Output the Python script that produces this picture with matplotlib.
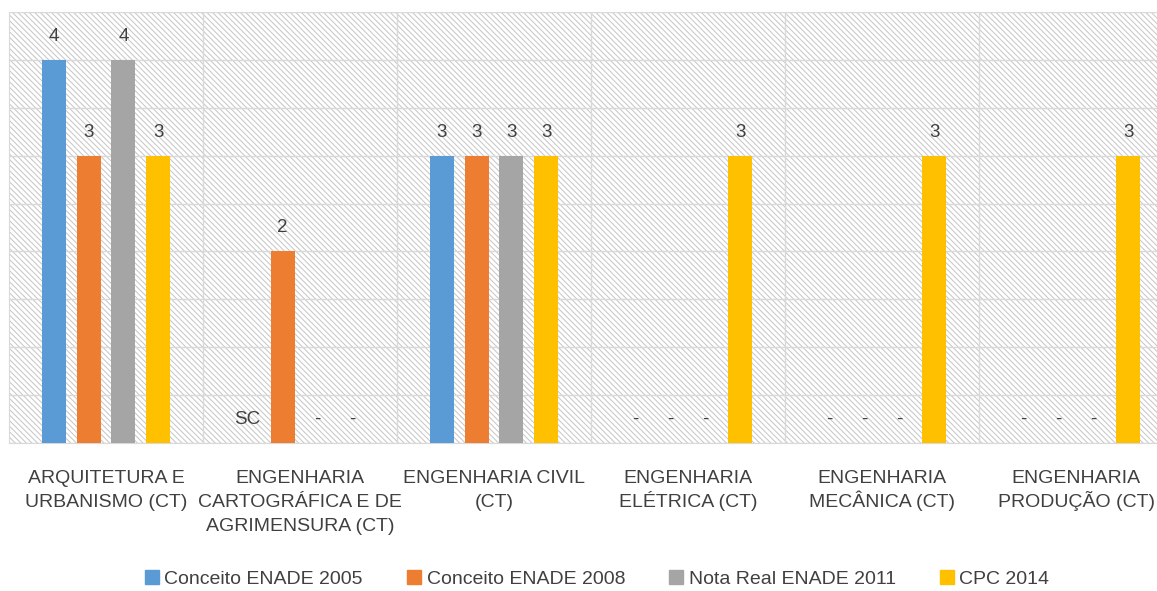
import numpy as np
import matplotlib.pyplot as plt
from matplotlib.patches import Rectangle, Patch

categories = [
    "ARQUITETURA E\nURBANISMO (CT)",
    "ENGENHARIA\nCARTOGRÁFICA E DE\nAGRIMENSURA (CT)",
    "ENGENHARIA CIVIL\n(CT)",
    "ENGENHARIA\nELÉTRICA (CT)",
    "ENGENHARIA\nMECÂNICA (CT)",
    "ENGENHARIA\nPRODUÇÃO (CT)",
]

series_names = ["Conceito ENADE 2005", "Conceito ENADE 2008",
                "Nota Real ENADE 2011", "CPC 2014"]

conceito_2005 = [4, 0, 3, 0, 0, 0]
conceito_2008 = [3, 2, 3, 0, 0, 0]
nota_2011 = [4, 0, 3, 0, 0, 0]
cpc_2014 = [3, 0, 3, 3, 3, 3]

labels_2005 = ["4", "SC", "3", "-", "-", "-"]
labels_2008 = ["3", "2", "3", "-", "-", "-"]
labels_2011 = ["4", "-", "3", "-", "-", "-"]
labels_2014 = ["3", "-", "3", "3", "3", "3"]

colors = ["#5B9BD5", "#ED7D31", "#A5A5A5", "#FFC000"]

plt.rcParams["font.family"] = ["Liberation Sans", "DejaVu Sans"]
plt.rcParams["hatch.linewidth"] = 0.75
plt.rcParams["hatch.color"] = "#c8c8c8"

fig = plt.figure(figsize=(11.57, 5.91), dpi=100)
ax = fig.add_axes([9 / 1157, 1 - 443 / 591, 1164 / 1157, 431 / 591])

# hatched background
bg = Rectangle((0, 0), 1, 1, transform=ax.transAxes, facecolor="white",
               edgecolor="#c8c8c8", hatch="\\\\\\\\\\\\", linewidth=0, zorder=0)
ax.add_patch(bg)

x = np.arange(len(categories))
step = 0.18
width = 0.124
all_vals = [conceito_2005, conceito_2008, nota_2011, cpc_2014]
all_labels = [labels_2005, labels_2008, labels_2011, labels_2014]

for i, (vals, labs) in enumerate(zip(all_vals, all_labels)):
    pos = x + (i - 1.5) * step
    ax.bar(pos, vals, width, color=colors[i], zorder=3)
    for px, v, lab in zip(pos, vals, labs):
        ax.annotate(lab, (px, v), xytext=(0, 17), textcoords="offset points",
                    ha="center", va="center", fontsize=13.5, color="#404040")

ax.set_xlim(-0.5, 5.5)
ax.set_ylim(0, 4.5)
ax.set_yticks(np.arange(0, 4.51, 0.5))
ax.set_yticklabels([])
ax.set_xticks(x)
ax.set_xticklabels([])
ax.set_xticks(x[:-1] + 0.5, minor=True)
ax.tick_params(axis="both", which="both", length=0)
ax.grid(axis="y", color="#d9d9d9", linewidth=1, zorder=1)
ax.grid(axis="x", which="minor", color="#d9d9d9", linewidth=1, zorder=1)
for side in ["top", "right"]:
    ax.spines[side].set_visible(False)
ax.spines["left"].set_color("#d9d9d9")
ax.spines["bottom"].set_color("#d9d9d9")

# category labels, one line at a time so every line keeps the same spacing
for xi, name in zip(x, categories):
    for j, line in enumerate(name.split("\n")):
        ax.annotate(line, (xi, 0), xycoords=("data", "axes fraction"),
                    xytext=(0, -28.5 - 17.3 * j), textcoords="offset points",
                    ha="center", va="baseline", fontsize=14, color="#404040",
                    annotation_clip=False)

handles = [Patch(color=c) for c in colors]
fig.legend(handles, series_names, loc="center", ncol=4, frameon=False,
           bbox_to_anchor=(0.516, 1 - 579 / 591), fontsize=14,
           handlelength=0.72, handleheight=0.72, handletextpad=0.3,
           columnspacing=2.25, labelcolor="#404040")

fig.savefig("out.png", dpi=100)
